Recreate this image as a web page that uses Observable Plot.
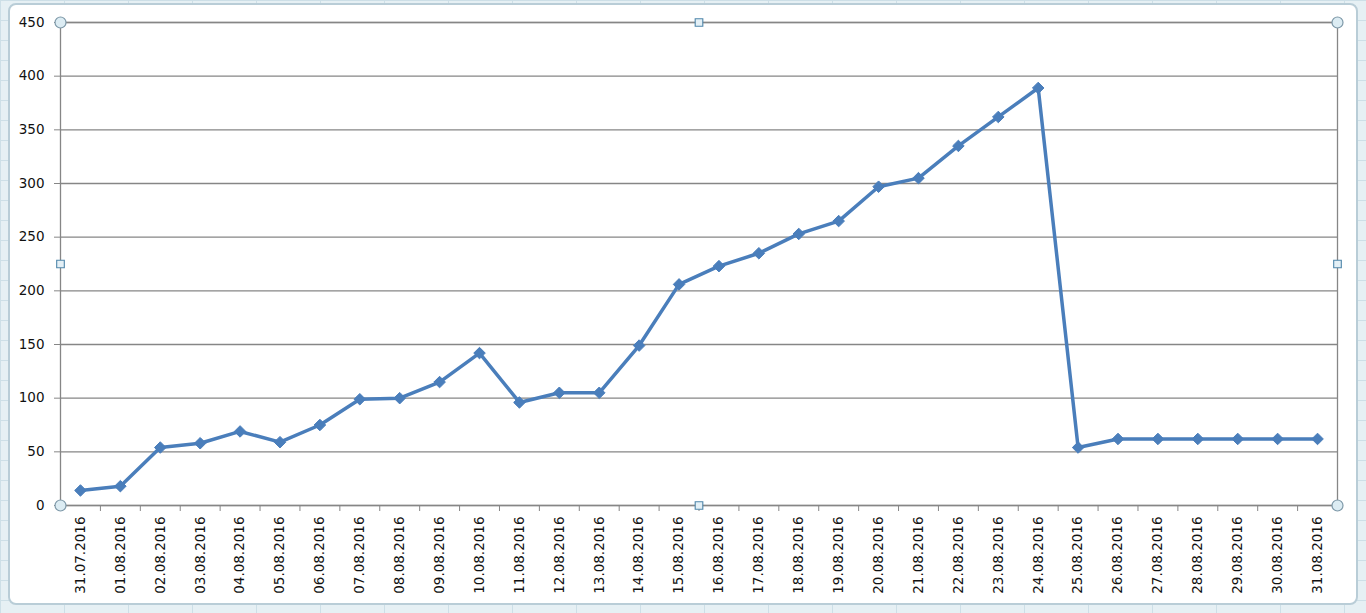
<!DOCTYPE html>
<html>
<head>
<meta charset="utf-8">
<script src="https://cdn.jsdelivr.net/npm/d3@7"></script>
<script src="https://cdn.jsdelivr.net/npm/@observablehq/plot@0.6"></script>
<style>
html, body { margin: 0; padding: 0; }
body {
  width: 1366px; height: 613px; overflow: hidden; position: relative;
  background-color: #e6f0f4;
  background-image: linear-gradient(#cddfe7 1px, transparent 1px), linear-gradient(90deg, #cddfe7 1px, transparent 1px);
  background-size: 64px 20px;
}
#box {
  position: absolute; left: 8px; top: 3px; width: 1346px; height: 598px;
  background: #ffffff; border: 2px solid #b9cdd7; border-radius: 8px;
}
#chart { position: absolute; left: 0; top: 0; }
</style>
</head>
<body>
<div id="box"></div>
<div id="chart"></div>
<script>
const dates = ["31.07.2016","01.08.2016","02.08.2016","03.08.2016","04.08.2016","05.08.2016","06.08.2016","07.08.2016","08.08.2016","09.08.2016","10.08.2016","11.08.2016","12.08.2016","13.08.2016","14.08.2016","15.08.2016","16.08.2016","17.08.2016","18.08.2016","19.08.2016","20.08.2016","21.08.2016","22.08.2016","23.08.2016","24.08.2016","25.08.2016","26.08.2016","27.08.2016","28.08.2016","29.08.2016","30.08.2016","31.08.2016"];
const values = [14,18,54,58,69,59,75,99,100,115,142,96,105,105,149,206,223,235,253,265,297,305,335,362,389,54,62,62,62,62,62,62];
const yTicks = [0,50,100,150,200,250,300,350,400,450];

const idx = dates.map((d, i) => i);
const boundaries = d3.range(dates.length + 1).map(i => i - 0.5);
const gray = "#868686";
const blue = "#4a7ebb";

const chart = Plot.plot({
  width: 1366,
  height: 613,
  marginLeft: 60,
  marginRight: 29,
  marginTop: 22,
  marginBottom: 108,
  style: { background: "transparent", fontFamily: "'DejaVu Sans', Verdana, sans-serif", fontSize: "13.5px", color: "#111", overflow: "visible" },
  x: { domain: [-0.5, dates.length - 0.5] },
  y: { domain: [0, 450] },
  marks: [
    Plot.gridY(yTicks, { stroke: gray, strokeOpacity: 1, strokeWidth: 1.3 }),
    Plot.frame({ stroke: gray, strokeWidth: 1.3 }),
    Plot.axisY({ ticks: yTicks, tickSize: 6, tickPadding: 10, stroke: gray, strokeOpacity: 1, label: null }),
    Plot.axisX({ ticks: boundaries, tickSize: 6, tickFormat: () => "", stroke: gray, strokeOpacity: 1, label: null }),
    Plot.axisX({ ticks: idx, tickSize: 0, tickPadding: 11, tickRotate: -90, tickFormat: i => dates[i], label: null }),
    Plot.lineY(values, { x: (d, i) => i, y: d => d, stroke: blue, strokeWidth: 3.5, strokeLinejoin: "round" }),
    Plot.dot(values, { x: (d, i) => i, y: d => d, symbol: "diamond2", r: 5.2, fill: blue, stroke: blue, strokeWidth: 1 }),
    ...["top-left", "top-right", "bottom-left", "bottom-right"].map(a =>
      Plot.dot([0], { frameAnchor: a, r: 5.5, fill: "#dcecf3", stroke: "#7d98a8", strokeWidth: 1.2 })),
    ...["top", "bottom", "left", "right"].map(a =>
      Plot.dot([0], { frameAnchor: a, symbol: "square", r: 4.3, fill: "#e4f0f6", stroke: "#4f86aa", strokeWidth: 1.1 }))
  ]
});
document.getElementById("chart").appendChild(chart);
</script>
</body>
</html>
